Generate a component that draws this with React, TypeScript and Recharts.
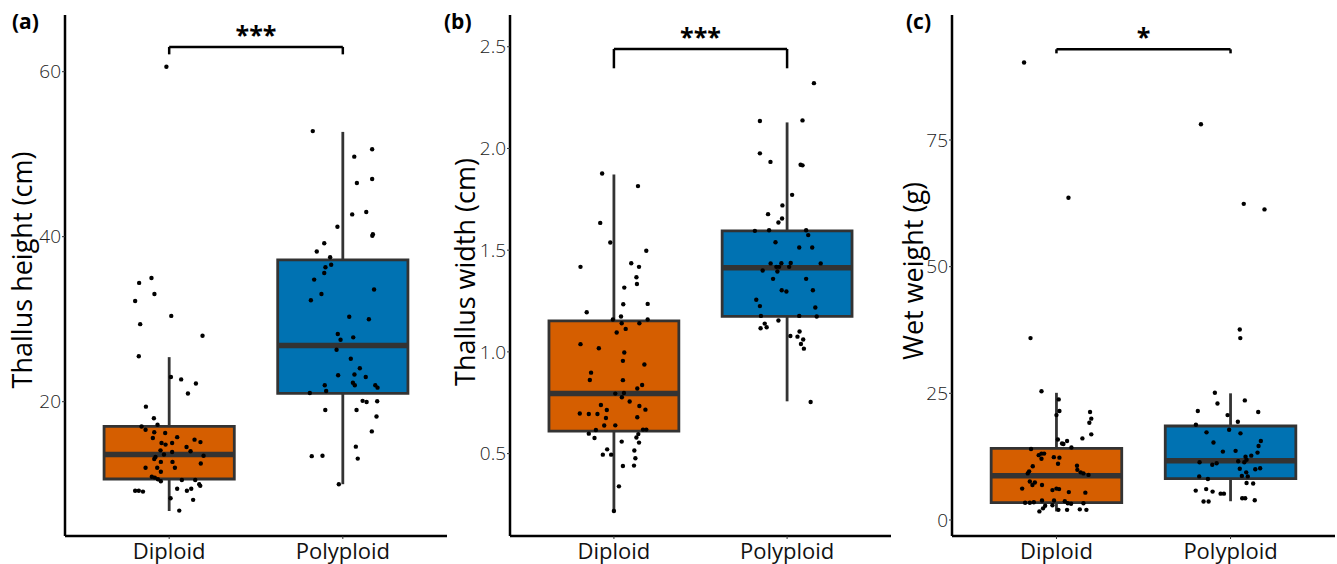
import React from 'react';
import { ScatterChart, Scatter, XAxis, YAxis, ReferenceArea, ReferenceLine } from 'recharts';

const FONT = "'Open Sans', 'Noto Sans', sans-serif";

const categories = ['Diploid', 'Polyploid'];
const groupColors = ['#D55E00', '#0072B2'];

// [jitter offset from category centre, value]
const heightDiploid: [number, number][] = [
  [-0.016, 60.6], [-0.173, 34.4], [-0.102, 35.0], [-0.085, 33.05], [-0.196, 32.2], [0.012, 30.4], [-0.167, 29.4],
  [0.192, 28.0], [-0.175, 25.5], [0.01, 23.0], [0.069, 22.7], [0.154, 22.2], [0.108, 21.0], [-0.134, 19.4],
  [-0.088, 18.0], [-0.067, 17.2], [-0.159, 17.0], [-0.136, 16.6], [-0.086, 16.3], [-0.023, 16.2], [0.046, 15.7],
  [-0.094, 15.6], [0.146, 15.4], [-0.044, 15.0], [0.017, 15.0], [0.18, 15.1], [-0.021, 14.8], [0.1, 14.5],
  [-0.05, 14.1], [0.123, 14.0], [0.017, 13.9], [-0.03, 13.6], [-0.079, 13.3], [0.198, 13.45], [-0.086, 13.05],
  [-0.048, 12.7], [0.019, 12.7], [0.182, 12.5], [-0.136, 12.0], [-0.069, 12.0], [0.033, 12.0], [-0.048, 11.5],
  [-0.1, 10.9], [-0.083, 10.8], [-0.065, 10.6], [-0.048, 10.35], [0.073, 10.5], [0.15, 10.5], [0.173, 10.0],
  [0.179, 9.8], [0.046, 9.45], [0.127, 9.45], [0.102, 9.2], [-0.196, 9.2], [-0.151, 9.1], [-0.175, 9.2],
  [0.008, 8.3], [0.138, 8.1], [0.058, 6.8],
];
const heightPolyploid: [number, number][] = [
  [-0.173, 52.8], [0.169, 50.6], [0.066, 49.7], [0.081, 46.5], [0.169, 47.0], [0.054, 42.7], [0.135, 43.0],
  [-0.031, 41.2], [0.173, 40.3], [0.17, 40.1], [-0.107, 39.2], [-0.15, 38.2], [-0.073, 37.5], [-0.1, 36.3],
  [-0.067, 36.6], [-0.107, 35.6], [-0.165, 34.8], [0.18, 33.6], [-0.123, 33.05], [-0.184, 32.3], [0.037, 30.3],
  [0.15, 30.0], [-0.029, 28.2], [-0.013, 27.5], [0.06, 27.8], [-0.036, 26.3], [0.046, 25.2], [0.098, 24.05],
  [-0.027, 23.2], [0.067, 23.3], [0.132, 23.0], [0.058, 22.3], [0.069, 22.0], [-0.104, 22.0], [-0.096, 21.3],
  [0.187, 22.0], [0.2, 21.7], [-0.19, 21.05], [0.114, 20.1], [0.137, 19.96], [0.198, 20.05], [-0.101, 19.0],
  [0.079, 19.0], [0.194, 18.2], [0.167, 16.4], [0.075, 14.55], [-0.179, 13.4], [-0.117, 13.45], [0.086, 13.1],
  [-0.023, 10.0],
];
const widthDiploid: [number, number][] = [
  [-0.068, 1.877], [0.139, 1.815], [-0.079, 1.634], [-0.021, 1.538], [0.187, 1.497], [-0.193, 1.418], [0.1, 1.436],
  [0.145, 1.418], [0.13, 1.367], [0.133, 1.334], [0.06, 1.316], [0.054, 1.234], [0.195, 1.236], [-0.157, 1.195],
  [0.041, 1.174], [-0.006, 1.159], [0.195, 1.159], [0.045, 1.141], [0.147, 1.141], [0.068, 1.113], [0.016, 1.095],
  [-0.193, 1.038], [-0.087, 1.018], [0.06, 0.997], [0.052, 0.956], [0.176, 0.938], [-0.132, 0.898], [-0.139, 0.862],
  [0.052, 0.861], [0.163, 0.837], [0.135, 0.82], [0.058, 0.798], [0.008, 0.795], [0.046, 0.777], [0.091, 0.756],
  [-0.075, 0.739], [0.147, 0.734], [-0.041, 0.714], [0.182, 0.716], [-0.197, 0.697], [-0.145, 0.695], [-0.095, 0.695],
  [-0.046, 0.675], [0.135, 0.679], [-0.056, 0.638], [0.008, 0.639], [-0.104, 0.616], [0.168, 0.618], [0.187, 0.618],
  [-0.145, 0.598], [0.141, 0.596], [-0.112, 0.577], [0.13, 0.579], [0.045, 0.559], [0.145, 0.554], [-0.039, 0.521],
  [0.118, 0.515], [-0.064, 0.495], [-0.016, 0.495], [0.124, 0.477], [0.052, 0.439], [0.116, 0.441], [0.029, 0.339],
  [0, 0.218],
];
const widthPolyploid: [number, number][] = [
  [0.155, 2.321], [-0.157, 2.135], [0.089, 2.138], [-0.157, 1.976], [-0.096, 1.934], [0.078, 1.92], [0.089, 1.917],
  [0.029, 1.772], [-0.027, 1.72], [-0.11, 1.677], [-0.029, 1.656], [-0.05, 1.636], [-0.186, 1.595], [-0.104, 1.598],
  [0.11, 1.598], [0.122, 1.574], [-0.067, 1.539], [0.07, 1.513], [0.145, 1.513], [-0.095, 1.435], [-0.033, 1.436],
  [0.021, 1.437], [0.194, 1.435], [-0.062, 1.418], [-0.046, 1.418], [0.012, 1.418], [-0.141, 1.4], [-0.056, 1.395],
  [-0.081, 1.359], [0.11, 1.359], [-0.031, 1.303], [0.149, 1.303], [-0.004, 1.297], [-0.178, 1.256], [-0.157, 1.225],
  [0.163, 1.218], [-0.151, 1.177], [0.07, 1.177], [0.171, 1.174], [-0.05, 1.154], [-0.129, 1.139], [-0.118, 1.121],
  [-0.153, 1.116], [0.072, 1.1], [0.019, 1.078], [0.06, 1.075], [0.093, 1.061], [0.08, 1.039], [0.097, 1.016],
  [0.136, 0.754],
];
const weightDiploid: [number, number][] = [
  [-0.186, 90.3], [0.069, 63.6], [-0.149, 35.9], [-0.086, 25.4], [0.013, 23.8], [0.017, 21.5], [0, 20.7],
  [0.193, 21.3], [0.2, 20.0], [0.189, 19.2], [0.2, 16.9], [0.149, 16.1], [0.008, 15.9], [0.061, 15.6],
  [0.032, 15.1], [0.04, 15.0], [0.086, 14.3], [-0.146, 14.0], [-0.086, 13.1], [-0.071, 13.1], [-0.102, 12.8],
  [-0.086, 12.1], [-0.015, 12.4], [0.017, 12.3], [0.009, 11.1], [-0.136, 10.6], [0.118, 10.7], [0.12, 9.9],
  [0.139, 9.4], [0.155, 9.2], [0.184, 8.9], [-0.165, 9.2], [-0.157, 9.6], [-0.153, 7.6], [-0.124, 7.4],
  [-0.138, 6.9], [-0.083, 6.9], [-0.197, 6.2], [-0.023, 5.9], [0, 6.2], [0.015, 6.1], [0.071, 5.5], [0.166, 5.4],
  [-0.18, 3.4], [-0.153, 3.4], [-0.13, 3.5], [-0.083, 3.85], [-0.014, 3.85], [0.048, 3.7], [0.065, 3.3],
  [0.084, 3.2], [0.155, 3.3], [-0.065, 2.8], [-0.077, 2.3], [-0.023, 2.9], [-0.098, 1.7], [0.011, 2.0],
  [0.061, 2.0], [0.134, 2.1], [0.172, 2.0],
];
const weightPolyploid: [number, number][] = [
  [-0.17, 78.1], [0.076, 62.4], [0.195, 61.3], [0.053, 37.6], [0.056, 35.9], [-0.09, 25.1], [0.082, 23.6],
  [-0.075, 23.0], [-0.188, 21.5], [0.159, 21.3], [-0.017, 20.7], [0.042, 19.4], [-0.199, 18.8], [-0.008, 17.8],
  [-0.138, 17.3], [0.057, 17.1], [-0.098, 15.3], [0.174, 15.6], [0.161, 14.6], [-0.044, 13.5], [0.029, 13.65],
  [0.155, 13.3], [0.119, 12.7], [0.086, 12.5], [0.092, 11.9], [0.044, 11.6], [0.079, 11.4], [-0.178, 11.4],
  [-0.08, 11.2], [-0.105, 10.9], [0.053, 10.1], [0.142, 10.0], [0.17, 10.2], [0.09, 9.4], [0.099, 8.6],
  [0.065, 8.7], [-0.18, 8.6], [-0.13, 8.1], [0.092, 7.3], [0.13, 7.2], [-0.2, 5.8], [-0.14, 6.1], [-0.103, 5.6],
  [-0.057, 5.2], [-0.038, 5.2], [-0.155, 3.65], [-0.126, 3.65], [0.067, 4.3], [0.084, 4.3], [0.139, 3.9],
];

// box stats: [lower whisker, q1, median, q3, upper whisker]
const heightBoxes = [[6.75, 10.63, 13.6, 17.0, 25.4], [10.0, 21.0, 26.8, 37.2, 52.7]];
const widthBoxes = [[0.218, 0.611, 0.795, 1.152, 1.872], [0.757, 1.175, 1.413, 1.595, 2.128]];
const weightBoxes = [[1.7, 3.41, 8.74, 14.15, 25.1], [3.7, 8.15, 11.7, 18.55, 25.0]];

const heightTicks = [20, 40, 60];
const widthTicks = [0.5, 1.0, 1.5, 2.0, 2.5];
const weightTicks = [0, 25, 50, 75];

// significance brackets: [bar level, tip level, label]
const heightSig: [number, number, string] = [63.0, 62.1, '***'];
const widthSig: [number, number, string] = [2.489, 2.394, '***'];
const weightSig: [number, number, string] = [92.9, 92.1, '*'];

const Dot = (p: any) => <circle cx={p.cx} cy={p.cy} r={2.2} fill="#000" />;

type PanelProps = {
  left: number;
  width: number;
  mr: number;
  domain: [number, number];
  ticks: number[];
  fmt: (v: number) => string;
  boxes: number[][];
  points: [number, number][][];
  sig: [number, number, string];
};

function Panel({ left, width, mr, domain, ticks, fmt, boxes, points, sig }: PanelProps) {
  const [barY, tipY, stars] = sig;
  return (
    <div style={{ position: 'absolute', left, top: 0 }}>
      <ScatterChart width={width} height={564} margin={{ top: 15, right: mr, bottom: 0, left: 0 }}>
        <XAxis
          type="number"
          dataKey="x"
          domain={[0.4, 2.6]}
          ticks={[1, 2]}
          interval={0}
          allowDataOverflow
          tickFormatter={(v: number) => categories[Math.round(v) - 1]}
          height={28}
          tickSize={3}
          tickMargin={4}
          axisLine={{ stroke: '#000', strokeWidth: 2.5 }}
          tickLine={{ stroke: '#333', strokeWidth: 1 }}
          tick={{ fontSize: 22, fill: '#111', fontFamily: FONT }}
        />
        <YAxis
          type="number"
          dataKey="y"
          domain={domain}
          ticks={ticks}
          interval={0}
          allowDataOverflow
          tickFormatter={fmt}
          width={65}
          tickSize={3}
          tickMargin={1}
          axisLine={{ stroke: '#000', strokeWidth: 2.5 }}
          tickLine={{ stroke: '#333', strokeWidth: 1 }}
          tick={{ fontSize: 19, fill: '#222', fontFamily: FONT, fontWeight: 300 }}
        />
        {boxes.map((s, i) => (
          <React.Fragment key={'g' + i}>
            <ReferenceLine segment={[{ x: i + 1, y: s[3] }, { x: i + 1, y: s[4] }]} stroke="#333" strokeWidth={2.8} />
            <ReferenceLine segment={[{ x: i + 1, y: s[0] }, { x: i + 1, y: s[1] }]} stroke="#333" strokeWidth={2.8} />
            <ReferenceArea
              x1={i + 1 - 0.375}
              x2={i + 1 + 0.375}
              y1={s[1]}
              y2={s[3]}
              fill={groupColors[i]}
              fillOpacity={1}
              stroke="#333"
              strokeWidth={2.8}
            />
            <ReferenceLine
              segment={[{ x: i + 1 - 0.375, y: s[2] }, { x: i + 1 + 0.375, y: s[2] }]}
              stroke="#333"
              strokeWidth={5.5}
            />
          </React.Fragment>
        ))}
        <ReferenceLine
          segment={[{ x: 1, y: barY }, { x: 2, y: barY }]}
          stroke="#000"
          strokeWidth={2.5}
          label={{ value: stars, position: 'top', offset: 3, fontSize: 25, fontWeight: 700, fill: '#000', fontFamily: FONT }}
        />
        <ReferenceLine segment={[{ x: 1, y: barY }, { x: 1, y: tipY }]} stroke="#000" strokeWidth={2.5} />
        <ReferenceLine segment={[{ x: 2, y: barY }, { x: 2, y: tipY }]} stroke="#000" strokeWidth={2.5} />
        {points.map((grp, i) => (
          <Scatter
            key={'s' + i}
            data={grp.map(([o, v]) => ({ x: i + 1 + o, y: v }))}
            shape={Dot}
            isAnimationActive={false}
          />
        ))}
      </ScatterChart>
    </div>
  );
}

const titleStyle = { fontFamily: FONT, fontSize: 27, fill: '#000' } as const;
const tagStyle = { fontFamily: FONT, fontSize: 21, fontWeight: 700, fill: '#000' } as const;

export default function App() {
  return (
    <div style={{ position: 'absolute', left: 0, top: 0, width: 1337, height: 564, background: '#fff' }}>
      <Panel
        left={0}
        width={450}
        mr={3}
        domain={[3.72, 66.87]}
        ticks={heightTicks}
        fmt={(v) => String(v)}
        boxes={heightBoxes}
        points={[heightDiploid, heightPolyploid]}
        sig={heightSig}
      />
      <Panel
        left={445}
        width={447}
        mr={1}
        domain={[0.095, 2.656]}
        ticks={widthTicks}
        fmt={(v) => v.toFixed(1)}
        boxes={widthBoxes}
        points={[widthDiploid, widthPolyploid]}
        sig={widthSig}
      />
      <Panel
        left={887}
        width={450}
        mr={2}
        domain={[-3.16, 99.67]}
        ticks={weightTicks}
        fmt={(v) => String(v)}
        boxes={weightBoxes}
        points={[weightDiploid, weightPolyploid]}
        sig={weightSig}
      />
      <svg width={1337} height={564} style={{ position: 'absolute', left: 0, top: 0, pointerEvents: 'none' }}>
        <text x={12} y={29} style={tagStyle}>(a)</text>
        <text x={444} y={29} style={tagStyle}>(b)</text>
        <text x={906} y={29} style={tagStyle}>(c)</text>
        <text transform="translate(32,270) rotate(-90)" textAnchor="middle" style={titleStyle}>Thallus height (cm)</text>
        <text transform="translate(475,272) rotate(-90)" textAnchor="middle" style={titleStyle}>Thallus width (cm)</text>
        <text transform="translate(923,271) rotate(-90)" textAnchor="middle" style={titleStyle}>Wet weight (g)</text>
      </svg>
    </div>
  );
}
